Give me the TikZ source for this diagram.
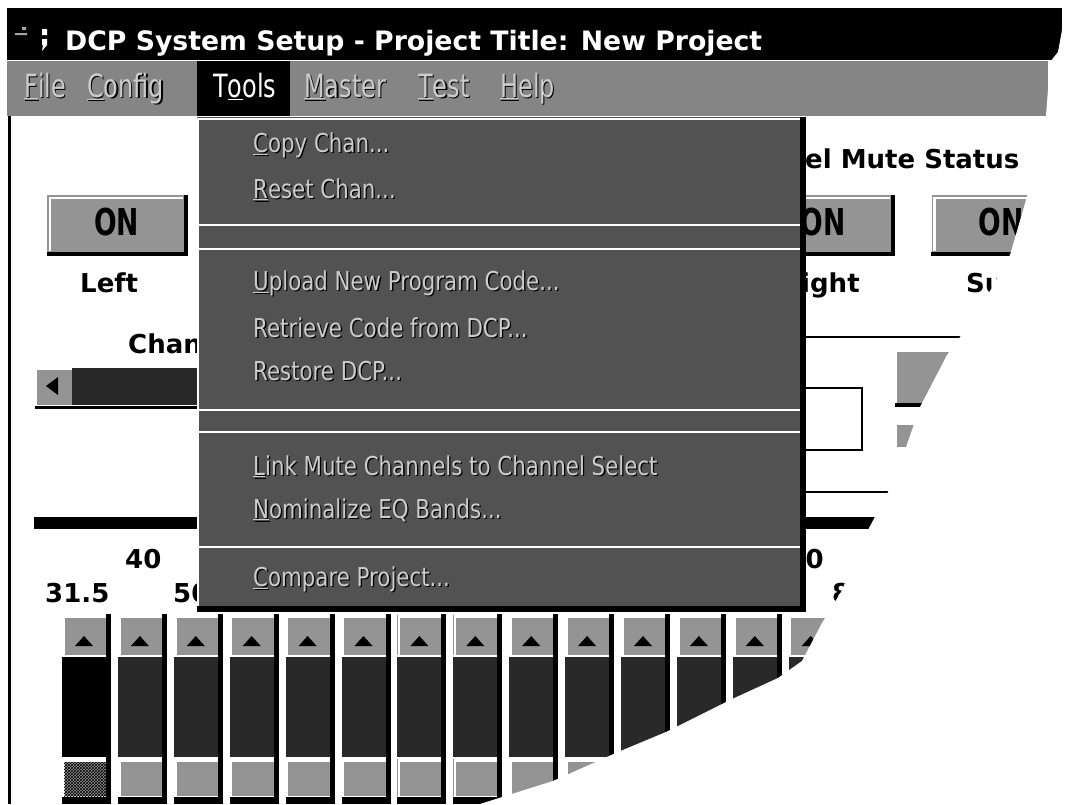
\documentclass[tikz,border=0pt]{standalone}
\usepackage{fontspec}
\setmainfont{DejaVu Sans}
\usetikzlibrary{positioning,patterns}

\definecolor{menugray}{gray}{0.52}
\definecolor{dropgray}{gray}{0.32}
\definecolor{btngray}{gray}{0.58}
\definecolor{trackgray}{gray}{0.16}
\definecolor{dimgray}{gray}{0.8}

\newcommand{\emboss}[1]{\makebox[0pt][l]{\hspace{1.6pt}\raisebox{-1.6pt}{\textcolor{black}{#1}}}#1}
\newcommand{\menutxt}[1]{\scalebox{0.75}[1]{\emboss{#1}}}
\newcommand{\droptxt}[1]{\scalebox{0.82}[1]{\emboss{#1}}}
\newcommand{\onlbl}{\scalebox{0.72}[1]{ON}}

\tikzset{
  titletext/.style={font=\fontsize{26.7}{30}\selectfont\bfseries, text=white, anchor=base west, inner sep=0pt},
  menuitem/.style={font=\fontsize{32}{36}\selectfont, text=dimgray, anchor=base west, inner sep=0pt},
  dropitem/.style={font=\fontsize{26}{30}\selectfont, text=dimgray, anchor=base west, inner sep=0pt},
  lbl/.style={font=\fontsize{26}{30}\selectfont\bfseries, anchor=base west, inner sep=0pt},
  onbtn/.style={fill=btngray, minimum width=139pt, minimum height=59pt, inner sep=0pt, text height=27pt, text depth=6pt, font=\fontsize{37}{40}\selectfont\bfseries},
  highedge/.style={white, line width=2.5pt},
  lowedge/.style={black, line width=4pt},
  sepline/.style={white, line width=2.5pt}
}

\begin{document}
\begin{tikzpicture}[x=1pt, y=-1pt]
\useasboundingbox (0,0) rectangle (1066,804);

% title bar
\fill[black] (7,8) rectangle (1062,60);
\fill[gray!70] (15,33) rectangle (27,35) (22,27) rectangle (26,30);
\fill[white] (42,29) rectangle (47,35) (42,39) rectangle (47,45) (43,45) -- (47,45) -- (42,51) -- cycle;
\node[titletext] (title) at (65,50) {DCP System Setup - Project Title: New Project};

% menu bar
\fill[menugray] (7,61) rectangle (1048,116);
\fill[black] (197,61) rectangle (290,116);
\node[menuitem] (file) at (24,97) {\menutxt{\underline{F}ile}};
\node[menuitem] (config) at (87,97) {\menutxt{\underline{C}onfig}};
\node[menuitem, text=white] (tools) at (213,97) {\scalebox{0.75}[1]{T\underline{o}ols}};
\node[menuitem] (master) at (304,97) {\menutxt{\underline{M}aster}};
\node[menuitem] (test) at (418,97) {\menutxt{\underline{T}est}};
\node[menuitem] (help) at (500,97) {\menutxt{\underline{H}elp}};

\draw[line width=3pt] (9,116) -- (9,804);

% mute buttons
\node[lbl] (mute) at (805,168) {el Mute Status};
\node[onbtn] (left) at (116.5,224.5) {\onlbl};
\node[onbtn] (right) at (823,224.5) {\onlbl};
\node[onbtn] (surr) at (1001,224.5) {\onlbl};
\foreach \b in {left,right,surr} {
  \draw[highedge] ([shift={(3,-3)}]\b.south west) |- ([shift={(-3,3)}]\b.north east);
  \draw[lowedge] (\b.south west) -| (\b.north east);
}
\node[lbl] (leftlbl) at (80,292) {Left};
\node[lbl] (rightlbl) at (801,292) {ight};
\node[lbl] (surrlbl) at (966,292) {Su};

% channel scroller
\node[lbl] (chan) at (128,353) {Chan};
\fill[btngray] (35,368) rectangle (72,405);
\draw[highedge] (36,405) -- (36,369) -- (72,369);
\fill (46,386) -- (58,377) -- (58,395) -- cycle;
\fill[trackgray] (72,368) rectangle (200,405);
\draw[line width=3pt] (35,407) -- (200,407);

% right panel
\draw[line width=1.5pt] (760,337) -- (1000,337);
\draw[line width=2pt] (770,388) rectangle (862,450);
\fill[btngray] (895,350) rectangle (1000,404);
\draw[highedge] (896,404) -- (896,351) -- (1000,351);
\draw[lowedge] (895,405) -- (1000,405);
\fill[btngray] (895,423) rectangle (1000,447);
\draw[highedge] (896,447) -- (896,424) -- (1000,424);
\draw[line width=1.5pt] (760,492) -- (900,492);
\fill (34,517) rectangle (900,529);

% EQ bands
\node[lbl] (f40) at (125,568) {40};
\node[lbl] (f31) at (45,602) {31.5};
\node[lbl] (f50) at (173,602) {50};
\node[lbl, anchor=base east] (f630) at (824,568) {630};
\node[lbl] (f800) at (832,602) {800};

\foreach \k in {0,...,13} {
  \pgfmathsetmacro\x{62+55.9*\k}
  \fill (\x+44,614) rectangle (\x+49,804);
  \fill[btngray] (\x,615) rectangle (\x+44,655);
  \draw[highedge] (\x+1.5,655) -- (\x+1.5,616.5) -- (\x+44,616.5);
  \fill (\x+13,646) -- (\x+31,646) -- (\x+22,636) -- cycle;
  \fill[trackgray] (\x,657) rectangle (\x+44,757);
  \fill[btngray] (\x,759) rectangle (\x+44,796);
  \draw[highedge] (\x+1.5,796) -- (\x+1.5,760.5) -- (\x+44,760.5);
  \fill (\x,797) rectangle (\x+44,804);
}
\fill (62,657) rectangle (106,757);
\fill[pattern=crosshatch] (64,762) rectangle (106,796);

% Tools menu
\fill[dropgray] (197,117) rectangle (800,606);
\draw[highedge, line width=2pt] (198,606) -- (198,119) -- (800,119);
\fill (800,117) rectangle (806,612);
\fill (197,606) rectangle (806,612);
\foreach \y in {225,249,410,432,547}
  \draw[sepline] (199,\y) -- (800,\y);
\node[dropitem] (copy) at (253,152) {\droptxt{\underline{C}opy Chan...}};
\node[dropitem, below=46pt of copy.base west, anchor=base west] (reset) {\droptxt{\underline{R}eset Chan...}};
\node[dropitem] (upload) at (253,290) {\droptxt{\underline{U}pload New Program Code...}};
\node[dropitem, below=47pt of upload.base west, anchor=base west] (retrieve) {\droptxt{Retrieve Code from DCP...}};
\node[dropitem, below=43pt of retrieve.base west, anchor=base west] (restore) {\droptxt{Restore DCP...}};
\node[dropitem] (link) at (253,475) {\droptxt{\underline{L}ink Mute Channels to Channel Select}};
\node[dropitem, below=43pt of link.base west, anchor=base west] (nominal) {\droptxt{\underline{N}ominalize EQ Bands...}};
\node[dropitem] (compare) at (253,586) {\droptxt{\underline{C}ompare Project...}};

% torn corner
\fill[white] (1066,0) -- (1062,0) -- (1062,30) -- (1058,52) -- (1050,62) -- (1046,116)
  -- (1036,165) -- (1026,200) -- (1010,255) -- (985,300) -- (960,337) -- (947,355)
  -- (920,407) -- (905,450) -- (888,492) -- (868,530) -- (841,592) -- (822,623)
  -- (802,661) -- (778,678) -- (730,700) -- (666,732) -- (618,752) -- (553,781)
  -- (480,804) -- (1066,804) -- cycle;
\end{tikzpicture}
\end{document}
